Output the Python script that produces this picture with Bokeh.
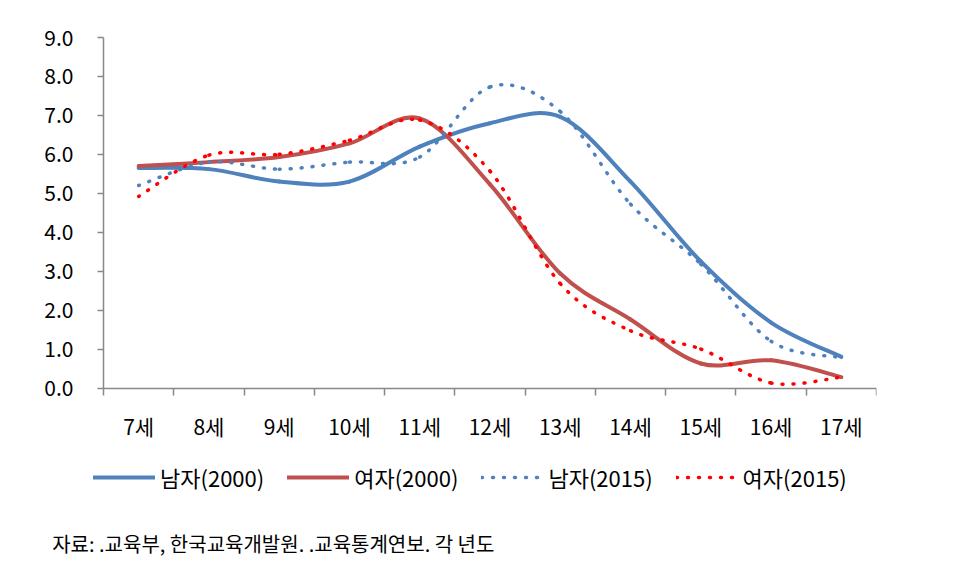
import numpy as np
from bokeh.plotting import figure
from bokeh.models import Range1d, FixedTicker, NumeralTickFormatter, Legend, LegendItem, Label
from bokeh.embed import file_html
from bokeh.resources import INLINE

ages = ["7세", "8세", "9세", "10세", "11세", "12세", "13세", "14세", "15세", "16세", "17세"]
male_2000 = [5.65, 5.62, 5.30, 5.30, 6.20, 6.80, 6.96, 5.30, 3.25, 1.68, 0.80]
female_2000 = [5.70, 5.80, 5.93, 6.28, 6.92, 5.23, 2.94, 1.76, 0.63, 0.71, 0.28]
male_2015 = [5.20, 5.80, 5.62, 5.80, 5.93, 7.73, 7.10, 4.72, 3.18, 1.20, 0.78]
female_2015 = [4.92, 5.98, 6.00, 6.36, 6.88, 5.57, 2.68, 1.47, 1.00, 0.13, 0.28]
y_ticks = [0, 1, 2, 3, 4, 5, 6, 7, 8, 9]
source_text = "자료: .교육부, 한국교육개발원. .교육통계연보. 각 년도"

FONT = "Noto Sans CJK KR"
BLUE = "#4F81BD"
RED = "#C0504D"
RED2 = "#FF0000"
AXIS = "#888888"

# pixel geometry (figure coordinates)
W, H = 936, 560
AX_LEFT, AX_RIGHT, AX_TOP, AX_BOTTOM = 103, 876, 37, 387.5
N = len(ages)
PXX = (AX_RIGHT - AX_LEFT) / N
PXY = (AX_BOTTOM - AX_TOP) / 9.0


def px_to_x(px):
    return (px - AX_LEFT) / PXX


def px_to_y(py):
    return (AX_BOTTOM - py) / PXY


xc = np.arange(N) + 0.5


def smooth_segments(yvals):
    P = np.column_stack([xc, np.asarray(yvals, dtype=float)])
    ext = np.vstack([P[0], P, P[-1]])
    p0 = ext[:-3]
    p1 = ext[1:-2]
    p2 = ext[2:-1]
    p3 = ext[3:]
    c1 = p1 + (p2 - p0) / 6.0
    c2 = p2 - (p3 - p1) / 6.0
    return dict(x0=p1[:, 0], y0=p1[:, 1], x1=p2[:, 0], y1=p2[:, 1],
                cx0=c1[:, 0], cy0=c1[:, 1], cx1=c2[:, 0], cy1=c2[:, 1])


p = figure(width=W, height=H,
           min_border_left=0, min_border_right=W - AX_RIGHT, min_border_top=0, min_border_bottom=0,
           x_range=Range1d(px_to_x(0), N), y_range=Range1d(px_to_y(H), px_to_y(0)),
           output_backend="svg", toolbar_location=None)
p.outline_line_color = None
p.grid.visible = False
p.background_fill_color = "white"
p.border_fill_color = "white"

series = [
    ("남자(2000)", male_2000, BLUE, None, 4),
    ("여자(2000)", female_2000, RED, None, 4),
    ("남자(2015)", male_2015, BLUE, "1 10", 3.5),
    ("여자(2015)", female_2015, RED2, "1 10", 3.5),
]

items = []
for label, vals, color, dash, w in series:
    seg = smooth_segments(vals)
    kw = dict(line_color=color, line_width=w, line_cap="round")
    if dash:
        kw["line_dash"] = dash
    r = p.bezier(**seg, **kw)
    items.append(LegendItem(label=label, renderers=[r], index=0))

# x axis drawn at y = 0
xa = p.xaxis[0]
xa.fixed_location = 0
xa.bounds = (0, N)
xa.ticker = FixedTicker(ticks=list(xc), minor_ticks=list(range(N + 1)))
xa.major_label_overrides = {float(v): a for v, a in zip(xc, ages)}
xa.major_tick_out = 0
xa.major_tick_in = 0
xa.minor_tick_out = 7
xa.minor_tick_in = 0
xa.minor_tick_line_color = AXIS
xa.minor_tick_line_width = 1.5
xa.axis_line_color = AXIS
xa.axis_line_width = 1.5
xa.major_label_standoff = 16
xa.major_label_text_font = FONT
xa.major_label_text_font_size = "21px"
xa.major_label_text_color = "#000000"

# y axis drawn at x = 0
ya = p.yaxis[0]
ya.fixed_location = 0
ya.bounds = (0, 9)
ya.ticker = FixedTicker(ticks=y_ticks)
ya.formatter = NumeralTickFormatter(format="0.0")
ya.major_tick_out = 6
ya.major_tick_in = 0
ya.minor_tick_out = 0
ya.minor_tick_in = 0
ya.major_tick_line_color = AXIS
ya.major_tick_line_width = 1.5
ya.axis_line_color = AXIS
ya.axis_line_width = 1.5
ya.major_label_standoff = 24
ya.major_label_text_font = FONT
ya.major_label_text_font_size = "21px"
ya.major_label_text_color = "#000000"

legend = Legend(items=items, orientation="horizontal", location=(93, H - 478 - 15),
                glyph_width=62, glyph_height=20, label_standoff=5, spacing=23,
                padding=0, margin=0, border_line_color=None, background_fill_alpha=0,
                label_text_font=FONT, label_text_font_size="22px", label_text_color="#000000")
p.add_layout(legend)

src = Label(x=px_to_x(51.7), y=px_to_y(543), text=source_text, text_baseline="middle", text_align="left",
            text_font=FONT, text_font_size="20px", text_color="#000000")
p.add_layout(src)

open("out.html", "w").write(file_html(p, INLINE))
